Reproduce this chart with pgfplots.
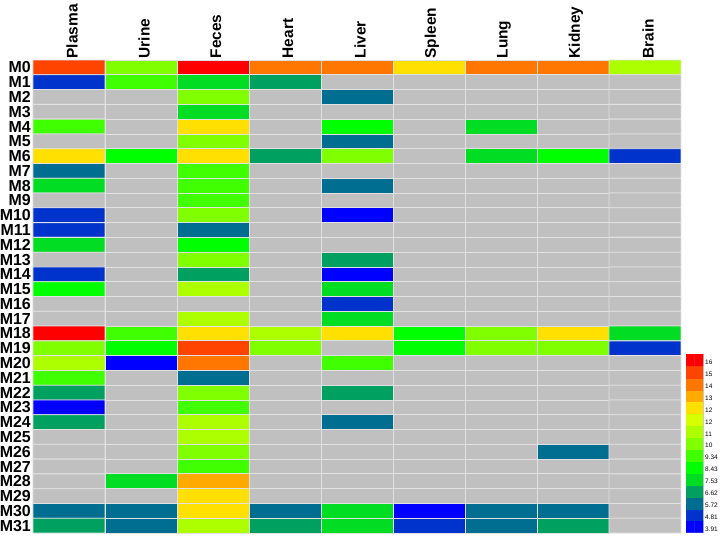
\documentclass[border=0pt]{standalone}
\usepackage{pgfplots}
\pgfplotsset{compat=1.18}
\usepackage{fontspec}
\setmainfont{Liberation Sans}
\pgfplotsset{colormap={hm}{rgb255=(192,192,192) rgb255=(0,0,255) rgb255=(0,51,204) rgb255=(0,110,144) rgb255=(0,160,96) rgb255=(0,221,34) rgb255=(0,255,0) rgb255=(64,255,0) rgb255=(127,255,0) rgb255=(173,255,0) rgb255=(216,255,0) rgb255=(255,224,0) rgb255=(255,170,0) rgb255=(255,119,0) rgb255=(255,68,0) rgb255=(255,0,0)}}
\begin{document}
\begin{tikzpicture}
\begin{axis}[at={(33bp,-60bp)}, anchor=north west, width=648bp, height=473bp, scale only axis,
  xmin=-0.5, xmax=8.5, ymin=-0.5, ymax=31.5, y dir=reverse,
  axis line style={draw=none}, major tick length=0pt,
  xtick={0,...,8}, xticklabels={Plasma,Urine,Feces,Heart,Liver,Spleen,Lung,Kidney,Brain},
  xticklabel pos=upper,
  xticklabel style={xshift=3bp, rotate=90, anchor=west, inner sep=1.5bp, font=\bfseries\fontsize{15.5}{16}\selectfont},
  ytick={0,...,31},
  yticklabels={M0,M1,M2,M3,M4,M5,M6,M7,M8,M9,M10,M11,M12,M13,M14,M15,M16,M17,M18,M19,M20,M21,M22,M23,M24,M25,M26,M27,M28,M29,M30,M31},
  yticklabel style={anchor=east, inner sep=0pt, xshift=-2bp, font=\bfseries\fontsize{16}{16}\selectfont},
  colormap name=hm, clip=false]
\addplot[matrix plot*, shader=faceted, faceted color={rgb,255:red,225;green,225;blue,225}, line width=0.8bp, colormap access=direct, point meta=explicit, mesh/cols=9, mesh/rows=32] coordinates {
(0,0)[14] (1,0)[8] (2,0)[15] (3,0)[13] (4,0)[13] (5,0)[11] (6,0)[13] (7,0)[13] (8,0)[9]
(0,1)[2] (1,1)[7] (2,1)[5] (3,1)[4] (4,1)[0] (5,1)[0] (6,1)[0] (7,1)[0] (8,1)[0]
(0,2)[0] (1,2)[0] (2,2)[8] (3,2)[0] (4,2)[3] (5,2)[0] (6,2)[0] (7,2)[0] (8,2)[0]
(0,3)[0] (1,3)[0] (2,3)[5] (3,3)[0] (4,3)[0] (5,3)[0] (6,3)[0] (7,3)[0] (8,3)[0]
(0,4)[7] (1,4)[0] (2,4)[11] (3,4)[0] (4,4)[6] (5,4)[0] (6,4)[5] (7,4)[0] (8,4)[0]
(0,5)[0] (1,5)[0] (2,5)[8] (3,5)[0] (4,5)[3] (5,5)[0] (6,5)[0] (7,5)[0] (8,5)[0]
(0,6)[11] (1,6)[6] (2,6)[11] (3,6)[4] (4,6)[8] (5,6)[0] (6,6)[5] (7,6)[6] (8,6)[2]
(0,7)[3] (1,7)[0] (2,7)[7] (3,7)[0] (4,7)[0] (5,7)[0] (6,7)[0] (7,7)[0] (8,7)[0]
(0,8)[5] (1,8)[0] (2,8)[7] (3,8)[0] (4,8)[3] (5,8)[0] (6,8)[0] (7,8)[0] (8,8)[0]
(0,9)[0] (1,9)[0] (2,9)[7] (3,9)[0] (4,9)[0] (5,9)[0] (6,9)[0] (7,9)[0] (8,9)[0]
(0,10)[2] (1,10)[0] (2,10)[8] (3,10)[0] (4,10)[1] (5,10)[0] (6,10)[0] (7,10)[0] (8,10)[0]
(0,11)[2] (1,11)[0] (2,11)[3] (3,11)[0] (4,11)[0] (5,11)[0] (6,11)[0] (7,11)[0] (8,11)[0]
(0,12)[5] (1,12)[0] (2,12)[6] (3,12)[0] (4,12)[0] (5,12)[0] (6,12)[0] (7,12)[0] (8,12)[0]
(0,13)[0] (1,13)[0] (2,13)[8] (3,13)[0] (4,13)[4] (5,13)[0] (6,13)[0] (7,13)[0] (8,13)[0]
(0,14)[2] (1,14)[0] (2,14)[4] (3,14)[0] (4,14)[1] (5,14)[0] (6,14)[0] (7,14)[0] (8,14)[0]
(0,15)[6] (1,15)[0] (2,15)[9] (3,15)[0] (4,15)[5] (5,15)[0] (6,15)[0] (7,15)[0] (8,15)[0]
(0,16)[0] (1,16)[0] (2,16)[0] (3,16)[0] (4,16)[2] (5,16)[0] (6,16)[0] (7,16)[0] (8,16)[0]
(0,17)[0] (1,17)[0] (2,17)[9] (3,17)[0] (4,17)[5] (5,17)[0] (6,17)[0] (7,17)[0] (8,17)[0]
(0,18)[15] (1,18)[7] (2,18)[11] (3,18)[9] (4,18)[11] (5,18)[6] (6,18)[8] (7,18)[11] (8,18)[5]
(0,19)[8] (1,19)[6] (2,19)[14] (3,19)[8] (4,19)[0] (5,19)[6] (6,19)[8] (7,19)[8] (8,19)[2]
(0,20)[9] (1,20)[1] (2,20)[13] (3,20)[0] (4,20)[7] (5,20)[0] (6,20)[0] (7,20)[0] (8,20)[0]
(0,21)[7] (1,21)[0] (2,21)[3] (3,21)[0] (4,21)[0] (5,21)[0] (6,21)[0] (7,21)[0] (8,21)[0]
(0,22)[4] (1,22)[0] (2,22)[8] (3,22)[0] (4,22)[4] (5,22)[0] (6,22)[0] (7,22)[0] (8,22)[0]
(0,23)[1] (1,23)[0] (2,23)[7] (3,23)[0] (4,23)[0] (5,23)[0] (6,23)[0] (7,23)[0] (8,23)[0]
(0,24)[4] (1,24)[0] (2,24)[9] (3,24)[0] (4,24)[3] (5,24)[0] (6,24)[0] (7,24)[0] (8,24)[0]
(0,25)[0] (1,25)[0] (2,25)[9] (3,25)[0] (4,25)[0] (5,25)[0] (6,25)[0] (7,25)[0] (8,25)[0]
(0,26)[0] (1,26)[0] (2,26)[8] (3,26)[0] (4,26)[0] (5,26)[0] (6,26)[0] (7,26)[3] (8,26)[0]
(0,27)[0] (1,27)[0] (2,27)[7] (3,27)[0] (4,27)[0] (5,27)[0] (6,27)[0] (7,27)[0] (8,27)[0]
(0,28)[0] (1,28)[5] (2,28)[12] (3,28)[0] (4,28)[0] (5,28)[0] (6,28)[0] (7,28)[0] (8,28)[0]
(0,29)[0] (1,29)[0] (2,29)[11] (3,29)[0] (4,29)[0] (5,29)[0] (6,29)[0] (7,29)[0] (8,29)[0]
(0,30)[3] (1,30)[3] (2,30)[11] (3,30)[3] (4,30)[5] (5,30)[1] (6,30)[3] (7,30)[3] (8,30)[0]
(0,31)[4] (1,31)[3] (2,31)[9] (3,31)[4] (4,31)[5] (5,31)[2] (6,31)[3] (7,31)[4] (8,31)[0]
};
\end{axis}
\begin{axis}[at={(686bp,-354bp)}, anchor=north west, width=17bp, height=178.5bp, scale only axis,
  xmin=-0.5, xmax=1.5, ymin=0.5, ymax=15.5, xtick=\empty,
  ytick={1,...,15}, yticklabels={3.91,4.81,5.72,6.62,7.53,8.43,9.34,10,11,12,12,13,14,15,16},
  yticklabel pos=right, major tick length=0pt,
  axis line style={gray!40, line width=0.4bp},
  yticklabel style={anchor=west, inner sep=0pt, xshift=2bp, yshift=-2.5bp, font=\fontsize{6.5}{7}\selectfont},
  colormap name=hm]
\addplot[matrix plot*, shader=flat corner, colormap access=direct, point meta=explicit, mesh/cols=2, mesh/rows=15] coordinates {
(0,1)[1] (1,1)[1] (0,2)[2] (1,2)[2] (0,3)[3] (1,3)[3] (0,4)[4] (1,4)[4] (0,5)[5] (1,5)[5]
(0,6)[6] (1,6)[6] (0,7)[7] (1,7)[7] (0,8)[8] (1,8)[8] (0,9)[9] (1,9)[9] (0,10)[10] (1,10)[10]
(0,11)[11] (1,11)[11] (0,12)[12] (1,12)[12] (0,13)[13] (1,13)[13] (0,14)[14] (1,14)[14] (0,15)[15] (1,15)[15]
};
\end{axis}
\pgfresetboundingbox
\path (0bp,0bp) rectangle (721bp,-537bp);
\end{tikzpicture}
\end{document}
